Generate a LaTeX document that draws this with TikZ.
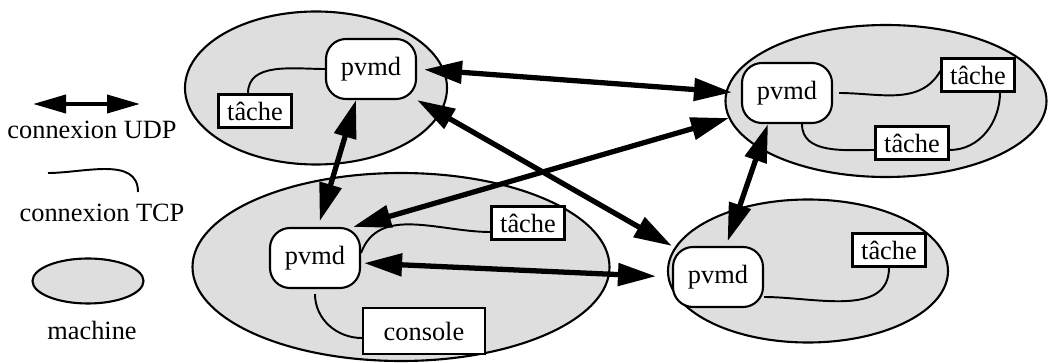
\documentclass[tikz,border=0pt]{standalone}
\usepackage{fontspec}
\setmainfont{Liberation Serif}
\usepackage{tikz}
\usepackage{xcolor}
\usetikzlibrary{shapes.geometric,arrows.meta}
\definecolor{machinegray}{RGB}{222,222,222}
\tikzset{
    machine-ellipse/.style = {draw, fill=machinegray, ellipse, line width=1.2pt, inner sep=0pt},
    pvmd-box/.style = {draw, fill=white, rectangle, rounded corners=4mm, line width=1.2pt, minimum width=18mm, minimum height=12mm},
    tache-box/.style = {draw, fill=white, rectangle, line width=1.3pt, inner sep=1pt, minimum width=14.6mm, minimum height=6.6mm},
    tcp-line/.style = {line width=1.1pt},
    udp-arrow/.style = {line width=3pt, {Triangle[length=7.6mm,width=4.4mm]}-{Triangle[length=7.6mm,width=4.4mm]}},
    legend-text/.style = {inner sep=0pt},
}

\begin{document}
\begin{tikzpicture}[x=0.2mm, y=-0.2mm, font=\fontsize{15}{18}\selectfont]
\useasboundingbox (0,0) rectangle (1050,363);
\node[machine-ellipse, minimum width=52.4mm, minimum height=30.6mm] (m1) at (316,88) {};
\node[machine-ellipse, minimum width=83.4mm, minimum height=37.6mm] (m2) at (401,267) {};
\node[machine-ellipse, minimum width=64.2mm, minimum height=30.4mm] (m3) at (886,101) {};
\node[machine-ellipse, minimum width=56mm, minimum height=28.6mm] (m4) at (808,271) {};

\node[pvmd-box] (p1) at (371,69) {pvmd};
\node[pvmd-box] (p2) at (315,258) {pvmd};
\node[pvmd-box] (p3) at (787,93) {pvmd};
\node[pvmd-box] (p4) at (718,277) {pvmd};
\node[tache-box] (t1) at (255,111) {tâche};
\node[tache-box] (t2) at (528,223) {tâche};
\node[tache-box, minimum width=24.4mm, minimum height=9.2mm] (c2) at (424,331) {console};
\node[tache-box] (t3a) at (978,75) {tâche};
\node[tache-box] (t3b) at (912,143) {tâche};
\node[tache-box] (t4) at (889,250) {tâche};

\draw[tcp-line] (p1.west) to[out=180,in=90] ([xshift=-1.4mm]t1.north);
\draw[tcp-line] ([yshift=1mm]p2.east) to[out=70,in=180] ([yshift=-1.8mm]t2.west);
\draw[tcp-line] ([yshift=-1mm]p2.south) to[out=-90,in=180] ([yshift=-1.4mm]c2.west);
\draw[tcp-line] ([xshift=1.2mm]p3.east) to[out=0,in=-120] ([yshift=0.8mm]t3a.west);
\draw[tcp-line] ([xshift=3mm]p3.south) to[out=-90,in=180] ([yshift=-1.4mm]t3b.west);
\draw[tcp-line] ([xshift=4.4mm]t3a.south) to[out=-90,in=0] ([yshift=-1.4mm]t3b.east);
\draw[tcp-line] ([yshift=-4mm]p4.east) to[out=0,in=-90] (t4.south);

\draw[udp-arrow, shorten <=1.4mm, shorten >=1.8mm] (p1.east) -- (p3.west);
\draw[udp-arrow] (p1.south east) -- (p4.north west);
\draw[udp-arrow, shorten >=1.2mm] ([xshift=-3mm]p1.south) -- ([xshift=0.6mm]p2.north);
\draw[udp-arrow] ([xshift=-1.6mm]p2.north east) -- ([xshift=-2.4mm,yshift=1.2mm]p3.south west);
\draw[udp-arrow, shorten <=0.6mm, shorten >=3.2mm] ([yshift=-1mm]p2.east) -- (p4.west);
\draw[udp-arrow, shorten >=1mm] ([xshift=-3.8mm]p3.south) -- ([xshift=1.6mm]p4.north);

\coordinate (udp-a) at (33,104);
\coordinate (udp-b) at (140,104);
\draw[udp-arrow, line width=2.2pt, {Triangle[length=6.6mm,width=3.6mm]}-{Triangle[length=6.6mm,width=3.6mm]}] (udp-a) -- (udp-b);
\node[legend-text] (udp-label) at (92,130) {connexion UDP};
\coordinate (tcp-a) at (48,173);
\coordinate (tcp-b) at (138,192);
\draw[tcp-line] (tcp-a) to[out=0,in=90] (tcp-b);
\node[legend-text] (tcp-label) at (102,213) {connexion TCP};
\node[machine-ellipse, minimum width=22.2mm, minimum height=9mm] (m0) at (88,281) {};
\node[legend-text] (m0-label) at (92,330) {machine};
\end{tikzpicture}
\end{document}
